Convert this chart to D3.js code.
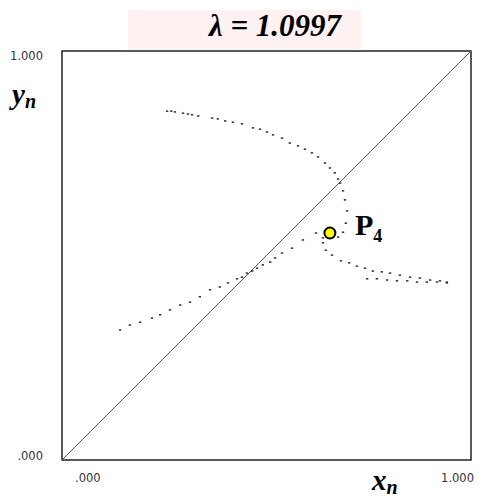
<!DOCTYPE html>
<html>
<head>
<meta charset="utf-8">
<script src="https://cdn.jsdelivr.net/npm/d3@7"></script>
<style>
  body { margin: 0; background: #fff; }
  svg { display: block; }
</style>
</head>
<body>
<svg width="478" height="501"></svg>
<script>
var lambda = "1.0997";
var tickValues = [0, 1];

// orbit points, [x_n, y_n]
var upperBranch = [
  [0.257, 0.853], [0.267, 0.853], [0.276, 0.851], [0.296, 0.848], [0.308, 0.846],
  [0.318, 0.844], [0.333, 0.841], [0.367, 0.836], [0.381, 0.834], [0.399, 0.829],
  [0.418, 0.826], [0.440, 0.822], [0.467, 0.812], [0.484, 0.809], [0.501, 0.802],
  [0.516, 0.795], [0.538, 0.787], [0.557, 0.775], [0.577, 0.768], [0.594, 0.760],
  [0.611, 0.751], [0.626, 0.741], [0.643, 0.726], [0.655, 0.714], [0.667, 0.702],
  [0.675, 0.687], [0.680, 0.677], [0.687, 0.658], [0.692, 0.636], [0.697, 0.609],
  [0.694, 0.579], [0.687, 0.557], [0.675, 0.545]
];
var rightBranch = [
  [0.621, 0.555], [0.638, 0.543], [0.638, 0.531], [0.645, 0.513], [0.660, 0.501],
  [0.682, 0.487], [0.702, 0.482], [0.721, 0.474], [0.741, 0.469], [0.760, 0.462],
  [0.782, 0.460], [0.802, 0.457], [0.826, 0.452], [0.851, 0.447], [0.875, 0.445],
  [0.900, 0.440], [0.924, 0.438], [0.941, 0.435]
];
var rightStrand = [
  [0.746, 0.443], [0.770, 0.443], [0.795, 0.440], [0.819, 0.438], [0.844, 0.438],
  [0.868, 0.435], [0.892, 0.435], [0.917, 0.435], [0.941, 0.433]
];
var leftBranch = [
  [0.589, 0.538], [0.562, 0.518], [0.538, 0.506], [0.521, 0.494], [0.509, 0.484],
  [0.491, 0.477], [0.477, 0.469], [0.465, 0.462], [0.452, 0.457], [0.440, 0.447],
  [0.428, 0.443], [0.406, 0.433], [0.386, 0.423], [0.362, 0.416], [0.337, 0.399],
  [0.313, 0.386], [0.289, 0.379], [0.264, 0.367], [0.240, 0.355], [0.220, 0.347],
  [0.191, 0.337], [0.166, 0.330], [0.142, 0.318]
];
var fixedPoint = {name: "P", sub: "4", x: 0.655, y: 0.555};

var svg = d3.select("svg");
var x = d3.scaleLinear().domain([0, 1]).range([62, 471]);
var y = d3.scaleLinear().domain([0, 1]).range([460, 51]);
var fmt = function(v) { return d3.format(".3f")(v).replace(/^0/, ""); };

// title
svg.append("rect")
  .attr("x", 128).attr("y", 10).attr("width", 233).attr("height", 39)
  .attr("fill", "#fdf1f1");
svg.append("text")
  .attr("x", 275).attr("y", 36)
  .attr("text-anchor", "middle")
  .attr("font-family", "'Liberation Serif', serif")
  .attr("font-weight", "bold").attr("font-style", "italic")
  .attr("font-size", 31)
  .text("\u03bb = " + lambda);

// frame + diagonal
svg.append("rect")
  .attr("x", x(0)).attr("y", y(1))
  .attr("width", x(1) - x(0)).attr("height", y(0) - y(1))
  .attr("fill", "none").attr("stroke", "#000").attr("stroke-width", 1.3);
svg.append("line")
  .attr("x1", x(0)).attr("y1", y(0)).attr("x2", x(1)).attr("y2", y(1))
  .attr("stroke", "#555").attr("stroke-width", 1);

// tick labels
var tickFont = "'DejaVu Sans', Verdana, sans-serif";
svg.selectAll(".ytick").data(tickValues).enter().append("text")
  .attr("class", "ytick")
  .attr("x", 43).attr("y", function(d) { return y(d) + (d === 1 ? 9 : 0); })
  .attr("text-anchor", "end")
  .attr("font-family", tickFont).attr("font-size", 11.5).attr("fill", "#333")
  .text(fmt);
svg.selectAll(".xtick").data(tickValues).enter().append("text")
  .attr("class", "xtick")
  .attr("x", function(d) { return d === 0 ? x(d) + 13 : x(d) + 3; })
  .attr("y", 482)
  .attr("text-anchor", function(d) { return d === 0 ? "start" : "end"; })
  .attr("font-family", tickFont).attr("font-size", 11.5).attr("fill", "#333")
  .text(fmt);

// axis names
function axisName(tx, ty, letter) {
  var t = svg.append("text")
    .attr("x", tx).attr("y", ty)
    .attr("font-family", "'Liberation Serif', serif")
    .attr("font-weight", "bold").attr("font-style", "italic");
  t.append("tspan").attr("font-size", 29).text(letter);
  t.append("tspan").attr("font-size", 20).attr("dy", 4).text("n");
}
axisName(12, 104, "y");
axisName(372, 490, "x");

// orbit dots
var dots = [].concat(upperBranch, rightBranch, rightStrand, leftBranch);
svg.append("g").selectAll("rect")
  .data(dots)
  .enter().append("rect")
  .attr("x", function(d) { return x(d[0]) - 1.2; })
  .attr("y", function(d) { return y(d[1]) - 0.7; })
  .attr("width", 2.4).attr("height", 1.4)
  .attr("fill", "#222");

// fixed point P4
svg.append("circle")
  .attr("cx", x(fixedPoint.x)).attr("cy", y(fixedPoint.y))
  .attr("r", 5.5)
  .attr("fill", "#ffff00").attr("stroke", "#000").attr("stroke-width", 2);
var lab = svg.append("text")
  .attr("x", x(fixedPoint.x) + 25).attr("y", y(fixedPoint.y) + 2)
  .attr("font-family", "'Liberation Serif', serif")
  .attr("font-weight", "bold");
lab.append("tspan").attr("font-size", 30).text(fixedPoint.name);
lab.append("tspan").attr("font-size", 18).attr("dy", 7).text(fixedPoint.sub);
</script>
</body>
</html>
